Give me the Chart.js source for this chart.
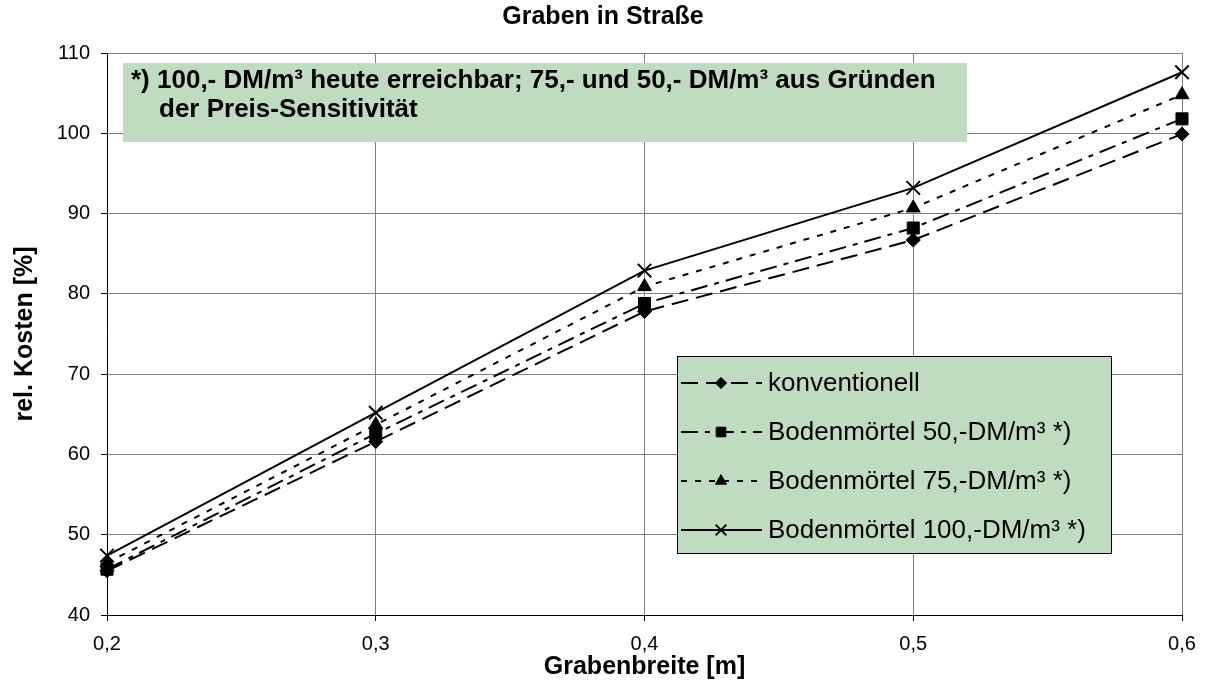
<!DOCTYPE html>
<html><head><meta charset="utf-8">
<script src="https://cdn.jsdelivr.net/npm/chart.js@4.4.1/dist/chart.umd.min.js"></script>
<style>html,body{margin:0;padding:0;background:#fff;}canvas{display:block;}</style>
</head><body>
<canvas id="c" width="1207" height="684"></canvas>
<script>
const categories = ['0,2', '0,3', '0,4', '0,5', '0,6'];
const konventionell = [45.5, 61.6, 77.8, 86.7, 99.9];
const boden50 = [45.7, 62.6, 78.8, 88.2, 101.8];
const boden75 = [46.5, 63.7, 80.9, 90.7, 104.8];
const boden100 = [47.4, 65.2, 82.9, 93.2, 107.6];
const seriesNames = ['konventionell', 'Bodenmörtel 50,-DM/m³ *)', 'Bodenmörtel 75,-DM/m³ *)', 'Bodenmörtel 100,-DM/m³ *)'];
const yMin = 40, yMax = 110, yStep = 10;
const chartTitle = 'Graben in Straße';
const xTitle = 'Grabenbreite [m]';
const yTitle = 'rel. Kosten [%]';
const noteLines = ['*) 100,- DM/m³ heute erreichbar; 75,- und 50,- DM/m³ aus Gründen', 'der Preis-Sensitivität'];

const FONT = '"Liberation Sans", Arial, sans-serif';
const GREEN = '#c0dcc0';

function drawMarker(ctx, style, x, y, r, bw) {
  ctx.save();
  ctx.setLineDash([]);
  ctx.fillStyle = '#000'; ctx.strokeStyle = '#000'; ctx.lineWidth = bw;
  ctx.beginPath();
  if (style === 'rectRot') {
    ctx.moveTo(x, y - r); ctx.lineTo(x + r, y); ctx.lineTo(x, y + r); ctx.lineTo(x - r, y); ctx.closePath();
    ctx.fill(); ctx.stroke();
  } else if (style === 'rect') {
    const s = r * Math.SQRT1_2; ctx.rect(x - s, y - s, 2 * s, 2 * s); ctx.fill(); ctx.stroke();
  } else if (style === 'triangle') {
    let a = 0;
    ctx.moveTo(x + Math.sin(a) * r, y - Math.cos(a) * r);
    a += 2 * Math.PI / 3; ctx.lineTo(x + Math.sin(a) * r, y - Math.cos(a) * r);
    a += 2 * Math.PI / 3; ctx.lineTo(x + Math.sin(a) * r, y - Math.cos(a) * r);
    ctx.closePath(); ctx.fill(); ctx.stroke();
  } else if (style === 'crossRot') {
    const d = r * Math.SQRT1_2;
    ctx.moveTo(x - d, y - d); ctx.lineTo(x + d, y + d);
    ctx.moveTo(x + d, y - d); ctx.lineTo(x - d, y + d);
    ctx.stroke();
  }
  ctx.restore();
}

function ds(label, data, dash, style, radius, bw) {
  return {
    label, data, borderColor: '#000', backgroundColor: '#000', borderWidth: 2, borderDash: dash,
    pointStyle: style, pointRadius: radius, pointHoverRadius: radius, pointBorderWidth: bw,
    pointBackgroundColor: '#000', pointBorderColor: '#000', tension: 0, fill: false, clip: false
  };
}

const datasets = [
  ds(seriesNames[0], konventionell, [17, 8], 'rectRot', 7, 1),
  ds(seriesNames[1], boden50, [17, 7, 5, 7], 'rect', 8.5, 1),
  ds(seriesNames[2], boden75, [6, 8], 'triangle', 8, 1),
  ds(seriesNames[3], boden100, [], 'crossRot', 9.5, 2)
];

const boxesPlugin = {
  id: 'boxes',
  beforeDatasetsDraw(chart) {
    const ctx = chart.ctx;
    ctx.save();
    // annotation box
    ctx.fillStyle = GREEN;
    ctx.fillRect(123, 63, 844, 79);
    ctx.fillStyle = '#000';
    ctx.font = 'bold 26px ' + FONT;
    ctx.textBaseline = 'middle';
    ctx.textAlign = 'left';
    ctx.fillText(noteLines[0], 131, 81);
    ctx.fillText(noteLines[1], 159, 110);
    // legend box
    ctx.fillStyle = GREEN;
    ctx.fillRect(677.5, 356.5, 434, 197);
    ctx.strokeStyle = '#000'; ctx.lineWidth = 1;
    ctx.strokeRect(677.5, 356.5, 434, 197);
    const rows = [383, 432, 481, 530];
    ctx.font = '26px ' + FONT;
    datasets.forEach((d, i) => {
      const y = rows[i];
      ctx.save();
      ctx.strokeStyle = '#000'; ctx.lineWidth = 2;
      ctx.setLineDash(d.borderDash);
      ctx.beginPath(); ctx.moveTo(681, y); ctx.lineTo(762, y); ctx.stroke();
      ctx.restore();
      drawMarker(ctx, d.pointStyle, 721, y, d.pointRadius * 0.8, d.pointBorderWidth);
      ctx.fillStyle = '#000';
      ctx.fillText(d.label, 768, y + 1);
    });
    ctx.restore();
  },
  afterDraw(chart) {
    const ctx = chart.ctx;
    ctx.save();
    ctx.fillStyle = '#000';
    ctx.font = 'bold 25px ' + FONT;
    ctx.textAlign = 'center';
    ctx.textBaseline = 'middle';
    ctx.fillText(chartTitle, 603, 17);
    ctx.restore();
  }
};

new Chart(document.getElementById('c'), {
  type: 'line',
  data: { labels: categories, datasets },
  options: {
    responsive: false,
    animation: false,
    devicePixelRatio: 1,
    layout: { padding: { top: 53, right: 25, bottom: 0, left: 0 } },
    plugins: { legend: { display: false }, title: { display: false }, tooltip: { enabled: false } },
    scales: {
      x: {
        type: 'category',
        offset: false,
        afterFit: s => { s.height = 69; },
        grid: { color: '#808080', lineWidth: 1, tickLength: 6, tickColor: '#000' },
        border: { color: '#000', width: 1 },
        ticks: { color: '#000', font: { size: 20, family: FONT }, padding: 11, maxRotation: 0, autoSkip: false },
        title: { display: true, text: xTitle, color: '#000', font: { size: 25, weight: 'bold', family: FONT }, padding: { top: 0, bottom: 2 } }
      },
      y: {
        min: yMin, max: yMax,
        afterFit: s => { s.width = 107; },
        grid: { color: '#808080', lineWidth: 1, tickLength: 6, tickColor: '#000' },
        border: { color: '#000', width: 1 },
        ticks: { stepSize: yStep, color: '#000', font: { size: 20, family: FONT }, padding: 11 },
        title: { display: true, text: yTitle, color: '#000', font: { size: 25, weight: 'bold', family: FONT }, padding: { top: 10, bottom: 0 } }
      }
    }
  },
  plugins: [boxesPlugin]
});
</script>
</body></html>
